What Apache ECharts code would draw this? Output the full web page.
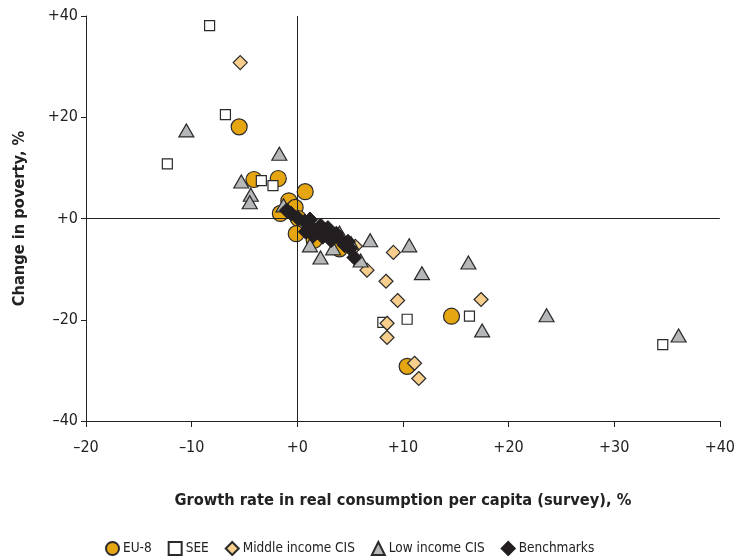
<!DOCTYPE html>
<html><head><meta charset="utf-8">
<script src="https://cdn.jsdelivr.net/npm/echarts@6/dist/echarts.min.js"></script>
<style>html,body{margin:0;padding:0;background:#fff}#c{width:738px;height:556px}</style>
</head><body><div id="c"></div>
<script>
const xTicks = [-20, -10, 0, 10, 20, 30, 40];
const yTicks = [-40, -20, 0, 20, 40];
const eu8 = [[-5.5,18.1],[-4.1,7.7],[-1.8,7.9],[0.75,5.3],[-0.8,3.5],[-0.2,2.2],[-1.6,1.0],[0.1,0.0],[-0.1,-3.0],[1.6,-4.3],[4.0,-6.0],[2.0,-2.5],[14.6,-19.3],[10.4,-29.2]];
const see = [[-8.3,38.1],[-6.8,20.5],[-12.3,10.8],[-3.4,7.5],[-2.3,6.5],[8.1,-20.5],[10.4,-19.9],[16.3,-19.3],[34.6,-24.9]];
const midCIS = [[-5.4,30.8],[9.1,-6.7],[5.5,-5.5],[6.6,-10.2],[8.4,-12.4],[9.5,-16.2],[17.4,-16.0],[8.5,-20.7],[8.5,-23.5],[11.1,-28.6],[11.5,-31.6]];
const lowCIS = [[-10.5,17.4],[-1.7,12.8],[-5.3,7.3],[-4.4,4.7],[-4.5,3.2],[-1.3,2.6],[1.2,-5.3],[2.2,-7.7],[3.4,-5.9],[4.0,-2.8],[5.1,-4.9],[6.9,-4.3],[6.0,-8.3],[10.6,-5.3],[11.8,-10.8],[16.2,-8.7],[17.5,-22.1],[23.6,-19.1],[36.1,-23.1]];
const bench = [[-1.0,1.6],[-0.6,1.0],[0.1,0.0],[0.7,-0.6],[1.0,-1.0],[1.3,-1.8],[1.8,-2.4],[2.2,-1.4],[2.6,-2.4],[3.1,-3.4],[3.7,-3.0],[2.4,-3.6],[1.5,-3.4],[4.1,-4.3],[4.5,-5.3],[5.0,-5.9],[5.4,-7.7],[1.2,-0.2],[2.9,-1.9],[3.2,-4.3],[4.8,-4.6],[0.8,-2.6]];

const FONT = "'DejaVu Sans Condensed','Liberation Sans Narrow',sans-serif";
const fmt = v => v > 0 ? '+' + v : (v < 0 ? '\u2013' + Math.abs(v) : '+0');
const chart = echarts.init(document.getElementById('c'));
const border = {borderColor:'#2a2a2a', borderWidth:1.2, opacity:1};
chart.setOption({
  animation:false,
  textStyle:{fontFamily:FONT},
  grid:{left:86, right:13, top:16, bottom:135, containLabel:false},
  legend:{
    top:536, left:100, itemWidth:13, itemHeight:13, itemGap:16,
    textStyle:{fontFamily:FONT, fontSize:13.5, color:'#222', padding:[0,0,0,-1]},
    data:['EU-8','SEE','Middle income CIS','Low income CIS','Benchmarks']
  },
  xAxis:{
    type:'value', min:xTicks[0], max:xTicks[xTicks.length-1], interval:10,
    name:'Growth rate in real consumption per capita (survey), %',
    nameLocation:'middle', nameGap:72,
    nameTextStyle:{fontFamily:FONT, fontSize:16.3, fontWeight:'bold', color:'#222'},
    axisLine:{show:true, onZero:false, lineStyle:{color:'#222', width:1}},
    axisTick:{show:true, length:6, lineStyle:{color:'#222'}},
    axisLabel:{formatter:fmt, margin:19, fontSize:16, color:'#222', fontFamily:FONT},
    splitLine:{show:false}
  },
  yAxis:{
    type:'value', min:yTicks[0], max:yTicks[yTicks.length-1], interval:20,
    name:'Change in poverty, %',
    nameLocation:'middle', nameGap:58,
    nameTextStyle:{fontFamily:FONT, fontSize:16.3, fontWeight:'bold', color:'#222'},
    axisLine:{show:true, onZero:false, lineStyle:{color:'#222', width:1}},
    axisTick:{show:true, length:5, lineStyle:{color:'#222'}},
    axisLabel:{formatter:fmt, margin:8, fontSize:16, color:'#222', fontFamily:FONT},
    splitLine:{show:false}
  },
  series:[
    {name:'EU-8', type:'scatter', symbol:'circle', symbolSize:16, data:eu8,
     itemStyle:Object.assign({color:'#E5A612'}, border),
     markLine:{silent:true, symbol:'none', label:{show:false},
       lineStyle:{color:'#222', width:1, type:'solid'},
       data:[{xAxis:0},{yAxis:0}]}},
    {name:'SEE', type:'scatter', symbol:'rect', symbolSize:10, data:see,
     itemStyle:Object.assign({color:'#ffffff'}, border)},
    {name:'Middle income CIS', type:'scatter', symbol:'diamond', symbolSize:14, data:midCIS,
     itemStyle:Object.assign({color:'#F8CE8C'}, border)},
    {name:'Low income CIS', type:'scatter', symbol:'triangle', symbolSize:[15,13], data:lowCIS,
     itemStyle:Object.assign({color:'#B6B7B9'}, border)},
    {name:'Benchmarks', type:'scatter', symbol:'diamond', symbolSize:15, data:bench,
     itemStyle:{color:'#231F20', borderColor:'#231F20', borderWidth:1, opacity:1}}
  ]
});
</script></body></html>
